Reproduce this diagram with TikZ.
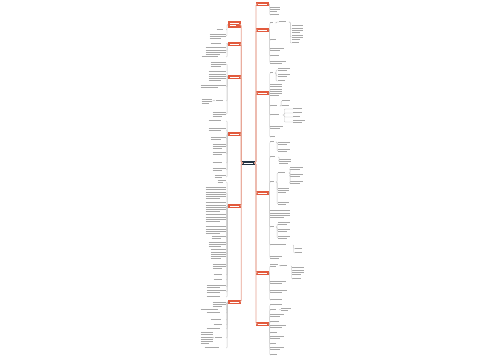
\documentclass[tikz,border=0pt]{standalone}
\usepackage{tikz}
\usetikzlibrary{positioning}
\definecolor{brc}{HTML}{E25A3D}
\definecolor{hubc}{HTML}{243443}
\definecolor{txt}{HTML}{A8A8A8}
\definecolor{limbc}{HTML}{E8A392}
\definecolor{twigc}{HTML}{C6C6C6}
% a block of n short text lines, w pt wide
\newcommand{\bars}[3][txt]{\begin{minipage}{#2pt}\color{#1}\parindent=0pt\baselineskip=2.2pt\lineskiplimit=-5pt\lineskip=0pt%
\ifnum#3>1 \foreach\k in{2,...,#3}{\rule{#2pt}{0.55pt}\par}\fi\rule{0.7\linewidth}{0.55pt}\end{minipage}}

\begin{document}
\begin{tikzpicture}[x=1pt,y=-1pt]
\tikzstyle{core}=[fill=hubc,inner sep=0,minimum width=12.8pt,minimum height=4.4pt]
\tikzstyle{br}=[fill=brc,inner sep=0,minimum width=12.4pt,minimum height=3.4pt]
\tikzstyle{leaf}=[inner sep=0.2pt]
\tikzstyle{limb}=[draw=limbc,line width=0.6pt,rounded corners=1.2pt]
\tikzstyle{twig}=[draw=twigc,line width=0.3pt,rounded corners=0.8pt]

\useasboundingbox[fill=white] (0,0) rectangle (500,360);

\foreach \k/\y in {1/4,2/30,3/93,4/193,5/273,6/324} \coordinate (r\k) at (262.5,\y);
\foreach \k/\y in {2/44,3/77,4/134,5/206,6/302} \coordinate (l\k) at (234.3,\y);

% centre
\node[core] (C) at (248.5,163) {\color{white}\rule{9pt}{0.9pt}};

% main branches
\foreach \k in {1,...,6} \node[br] (R\k) at (r\k) {\color{white}\rule{9pt}{0.8pt}};
\node[br,minimum height=7pt,minimum width=12.6pt] (L1) at (234.3,24.5) {\bars[white]{9}{2}};
\foreach \k in {2,...,6} \node[br] (L\k) at (l\k) {\color{white}\rule{9pt}{0.8pt}};

\foreach \k in {1,...,6} \draw[limb] (C.east) -- ++(0.9,0) |- (R\k.west);
\foreach \k in {1,...,6} \draw[limb] (C.west) -- ++(-0.7,0) |- (L\k.east);

% right side
\foreach \y/\w/\n [count=\i] in {9/10/3,15/12/1}{
  \node[leaf,anchor=west] (r1-\i) at (270,\y) {\bars{\w}{\n}};
  \draw[twig] (R1.east) -- ++(0.8,0) |- (r1-\i.west);}
\foreach \y/\w/\n [count=\i] in {23/4/1,40/8/1,50/14/2,56/12/1,63/16/2}{
  \node[leaf,anchor=west] (r2-\i) at (270,\y) {\bars{\w}{\n}};
  \draw[twig] (R2.east) -- ++(0.8,0) |- (r2-\i.west);}
\node[leaf,anchor=west] (r2a-1) at (279,22) {\bars{9}{1}};
\draw[twig] (r2-1.east) -- ++(1.5,0) |- (r2a-1.west);
\foreach \y/\w/\n [count=\i] in {29/11/4,37/11/3,43/10/1}{
  \node[leaf,anchor=west] (r2b-\i) at (292,\y) {\bars{\w}{\n}};
  \draw[twig] (r2a-1.east) -- ++(1.5,0) |- (r2b-\i.west);}

\foreach \y/\w/\n [count=\i] in {73/4/1,90/12/6,106/9/1,115/12/1,128/13/2,137/7/1}{
  \node[leaf,anchor=west] (r3-\i) at (270,\y) {\bars{\w}{\n}};
  \draw[twig] (R3.east) -- ++(0.8,0) |- (r3-\i.west);}
\foreach \y/\w/\n [count=\i] in {70/12/2,76/12/2,81/10/1}{
  \node[leaf,anchor=west] (r3a-\i) at (278,\y) {\bars{\w}{\n}};
  \draw[twig] (r3-1.east) -- ++(1.3,0) |- (r3a-\i.west);}
\foreach \y/\w/\n [count=\i] in {101/11/1,106/9/1}{
  \node[leaf,anchor=west] (r3c-\i) at (282,\y) {\bars{\w}{\n}};
  \draw[twig] (r3-3.east) -- ++(1.3,0) |- (r3c-\i.west);}
\foreach \y/\w/\n [count=\i] in {109/12/1,113/12/1,117/10/1,122/12/2}{
  \node[leaf,anchor=west] (r3d-\i) at (293,\y) {\bars{\w}{\n}};
  \draw[twig] (r3-4.east) -- ++(1.5,0) |- (r3d-\i.west);}

\foreach \y/\w/\n [count=\i] in {142/5/1,157/7/1,182/5/1,214/20/4,227/5/1,245/22/1,258/12/2}{
  \node[leaf,anchor=west] (r4-\i) at (270,\y) {\bars{\w}{\n}};
  \draw[twig] (R4.east) -- ++(0.8,0) |- (r4-\i.west);}
\foreach \y/\w/\n [count=\i] in {144/12/2,151/12/2}{
  \node[leaf,anchor=west] (r4a-\i) at (278,\y) {\bars{\w}{\n}};
  \draw[twig] (r4-1.east) -- ++(1.3,0) |- (r4a-\i.west);}
\node[leaf,anchor=west] (r4b-1) at (279,161) {\bars{12}{3}};
\draw[twig] (r4-2.east) -- ++(1.3,0) |- (r4b-1.west);
\foreach \y/\w/\n [count=\i] in {173/10/1,190/11/3,204/11/2}{
  \node[leaf,anchor=west] (r4c-\i) at (278,\y) {\bars{\w}{\n}};
  \draw[twig] (r4-3.east) -- ++(1.3,0) |- (r4c-\i.west);}
\foreach \y/\w/\n [count=\i] in {169/13/2,176/13/2,183/13/2}{
  \node[leaf,anchor=west] (r4d-\i) at (290,\y) {\bars{\w}{\n}};
  \draw[twig] (r4c-1.east) -- ++(1.3,0) |- (r4d-\i.west);}
\foreach \y/\w/\n [count=\i] in {224/12/2,231/12/2,238/12/2}{
  \node[leaf,anchor=west] (r4e-\i) at (278,\y) {\bars{\w}{\n}};
  \draw[twig] (r4-5.east) -- ++(1.3,0) |- (r4e-\i.west);}
\foreach \y/\w/\n [count=\i] in {249/10/1,253/10/1}{
  \node[leaf,anchor=west] (r4f-\i) at (294.5,\y) {\bars{\w}{\n}};
  \draw[twig] (r4-6.east) -- ++(1,0) |- (r4f-\i.west);}

\foreach \y/\w/\n [count=\i] in {266/8/2,283/16/2,292/17/2,300/16/1}{
  \node[leaf,anchor=west] (r5-\i) at (270,\y) {\bars{\w}{\n}};
  \draw[twig] (R5.east) -- ++(0.8,0) |- (r5-\i.west);}
\node[leaf,anchor=west] (r5a-1) at (280,266) {\bars{10}{1}};
\draw[twig] (r5-1.east) -- ++(1,0) |- (r5a-1.west);
\foreach \y/\w/\n [count=\i] in {271/12/4,279/12/1}{
  \node[leaf,anchor=west] (r5b-\i) at (292,\y) {\bars{\w}{\n}};
  \draw[twig] (r5a-1.east) -- ++(1,0) |- (r5b-\i.west);}

\foreach \y/\w/\n [count=\i] in {305/16/1,310/8/1,316/14/2,322/12/1,327/16/2,333/10/1,338/14/2,344/8/1,349/14/2,355/10/1}{
  \node[leaf,anchor=west] (r6-\i) at (270,\y) {\bars{\w}{\n}};
  \draw[twig] (R6.east) -- ++(0.8,0) |- (r6-\i.west);}
\node[leaf,anchor=west] (r6a-1) at (281,310) {\bars{10}{2}};
\draw[twig] (r6-2.east) -- ++(1,0) |- (r6a-1.west);

% left side
\foreach \y/\w/\n [count=\i] in {30/9/1,36/16/3}{
  \node[leaf,anchor=east] (l1-\i) at (226,\y) {\bars{\w}{\n}};
  \draw[twig] (L1.west) -- ++(-0.8,0) |- (l1-\i.east);}
\foreach \y/\w/\n [count=\i] in {44/15/1,51/20/4,57/24/1}{
  \node[leaf,anchor=east] (l2-\i) at (226,\y) {\bars{\w}{\n}};
  \draw[twig] (L2.west) -- ++(-0.8,0) |- (l2-\i.east);}
\foreach \y/\w/\n [count=\i] in {64/15/3,76/17/5,87/25/2,101/10/1,114/13/3}{
  \node[leaf,anchor=east] (l3-\i) at (226,\y) {\bars{\w}{\n}};
  \draw[twig] (L3.west) -- ++(-0.8,0) |- (l3-\i.east);}
\node[leaf,anchor=east] (l3a-1) at (212,101) {\bars{10}{3}};
\draw[twig] (l3-4.west) -- ++(-1.2,0) |- (l3a-1.east);
\foreach \y/\w/\n [count=\i] in {121/17/1,130/17/2,139/15/2,146/13/3,154/13/2,163/13/1,170/13/2,177/11/2}{
  \node[leaf,anchor=east] (l4-\i) at (226,\y) {\bars{\w}{\n}};
  \draw[twig] (L4.west) -- ++(-0.8,0) |- (l4-\i.east);}
\foreach \y/\w/\n [count=\i] in {182/8/2,193/20/6,207/20/5,218/20/4,230/20/4,238/14/2,244/17/3,254/15/5,266/13/3,275/12/1,280/12/1,287/19/2,292/19/2,297/19/1}{
  \node[leaf,anchor=east] (l5-\i) at (226,\y) {\bars{\w}{\n}};
  \draw[twig] (L5.west) -- ++(-0.8,0) |- (l5-\i.east);}
\foreach \y/\w/\n [count=\i] in {304/13/3,310/25/1,313/19/1,320/15/1,325/12/1,329/19/1,338/11/1,348/21/1}{
  \node[leaf,anchor=east] (l6-\i) at (226,\y) {\bars{\w}{\n}};
  \draw[twig] (L6.west) -- ++(-0.8,0) |- (l6-\i.east);}
\node[leaf,anchor=east] (l6a-1) at (213,338) {\bars{12}{6}};
\draw[twig] (l6-7.west) -- ++(-1.2,0) |- (l6a-1.east);
\end{tikzpicture}
\end{document}
